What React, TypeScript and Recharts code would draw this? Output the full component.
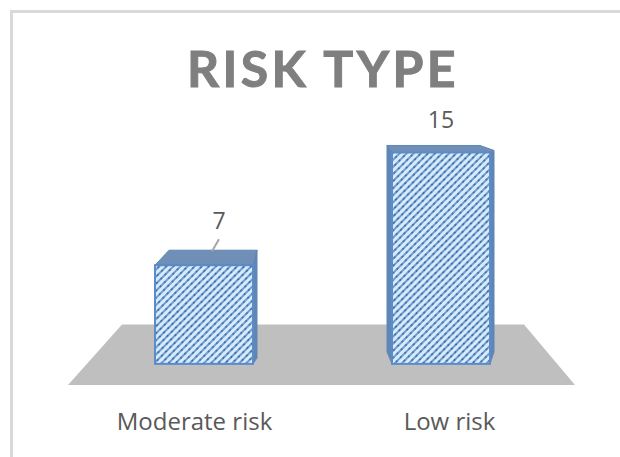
import { BarChart, Bar, XAxis, YAxis, LabelList, ReferenceArea } from 'recharts';

const categories = ['Moderate risk', 'Low risk'];
const values = [7, 15];

const chartData = categories.map((name, i) => ({ name, value: values[i] }));

// how each box leans back, the chart fakes a perspective view
const leans = [
  { left: 14, right: 4, topLeft: 15, topRight: 15, ridge: 4, sideDrop: 6 },
  { left: -5, right: 4, topLeft: 7, topRight: 2, ridge: -10, sideDrop: 12 },
];
const labelNudge = [
  { dx: 15, dy: -12 },
  { dx: 0, dy: 0 },
];
const tickNudge = [-9, 9];

const LINE = '#5b8bc9';
const SIDE = '#5f86b4';
const TOP = '#6f8fb6';

function FloorShape({ x, y, width, height }: any) {
  const pts = [
    [x - 17, y + height],
    [x + width + 16, y + height],
    [x + width - 35, y],
    [x + 37, y],
  ];
  return <polygon points={pts.map((p) => p.join(',')).join(' ')} fill="#bfbfbf" />;
}

function BoxShape({ x, y, width, height, index }: any) {
  const l = leans[index];
  const r = x + width;
  const b = y + height;
  const topFace = `${x},${y} ${x + l.left},${y - l.topLeft} ${r + l.ridge},${y - l.topLeft} ${r + l.right},${y - l.topRight} ${r},${y}`;
  const rightFace = `${r},${y} ${r + l.right},${y - l.topRight} ${r + l.right},${b - l.sideDrop} ${r},${b}`;
  const leftFace = `${x},${y} ${x + l.left},${y - l.topLeft} ${x + l.left},${b - l.sideDrop} ${x},${b}`;
  return (
    <g>
      {l.left < 0 && <polygon points={leftFace} fill={SIDE} stroke={SIDE} strokeWidth={1} />}
      <polygon points={rightFace} fill={SIDE} stroke={SIDE} strokeWidth={1} />
      <polygon points={topFace} fill={TOP} stroke={SIDE} strokeWidth={1} />
      <rect x={x} y={y} width={width} height={height} fill="url(#hatch)" stroke={LINE} strokeWidth={2} />
    </g>
  );
}

function ValueLabel({ x, y, width, value, index }: any) {
  const n = labelNudge[index];
  const cx = x + width / 2;
  return (
    <g>
      {index === 0 && <line x1={cx + 15} y1={y - 26} x2={cx + 8} y2={y - 14} stroke="#a6a6a6" strokeWidth={2} />}
      <text x={cx + n.dx} y={y - 24 + n.dy} textAnchor="middle" fontFamily="Open Sans" fontSize={23} fill="#595959">
        {value}
      </text>
    </g>
  );
}

function CategoryTick({ x, y, payload, index }: any) {
  return (
    <text x={x + tickNudge[index]} y={y + 37} textAnchor="middle" fontFamily="Open Sans" fontSize={24} fill="#595959">
      {payload.value}
    </text>
  );
}

export default function App() {
  return (
    <div style={{ position: 'absolute', left: 0, top: 0, width: 620, height: 457, background: '#fff', overflow: 'hidden' }}>
      <div
        style={{
          position: 'absolute',
          left: 10,
          top: 10,
          width: 620,
          height: 460,
          borderTop: '3px solid #d9d9d9',
          borderLeft: '3px solid #d9d9d9',
        }}
      />
      <div style={{ position: 'absolute', left: 0, top: 0 }}>
        <BarChart width={620} height={457} data={chartData} margin={{ top: 82, right: 61, bottom: 0, left: 85 }} barSize={98}>
          <defs>
            <pattern id="hatch" width="6" height="5" patternUnits="userSpaceOnUse" patternTransform="rotate(-45)">
              <rect width="6" height="5" fill="#d6ebfd" />
              <rect width="6" height="2" fill="#6f9bd0" />
              <rect width="2" height="2" fill="#44709f" />
            </pattern>
          </defs>
          <XAxis dataKey="name" axisLine={false} tickLine={false} height={72} tick={CategoryTick} />
          <YAxis hide domain={[-1.5, 20]} />
          <ReferenceArea y1={-1.5} y2={2.8} shape={FloorShape} />
          <Bar dataKey="value" shape={BoxShape} isAnimationActive={false}>
            <LabelList dataKey="value" content={ValueLabel} />
          </Bar>
          <text x={323} y={87} textAnchor="middle" fontFamily="Lato" fontWeight={700} fontSize={50} letterSpacing={3.4} fill="#7f7f7f" stroke="#7f7f7f" strokeWidth={1}>
            RISK TYPE
          </text>
        </BarChart>
      </div>
    </div>
  );
}
